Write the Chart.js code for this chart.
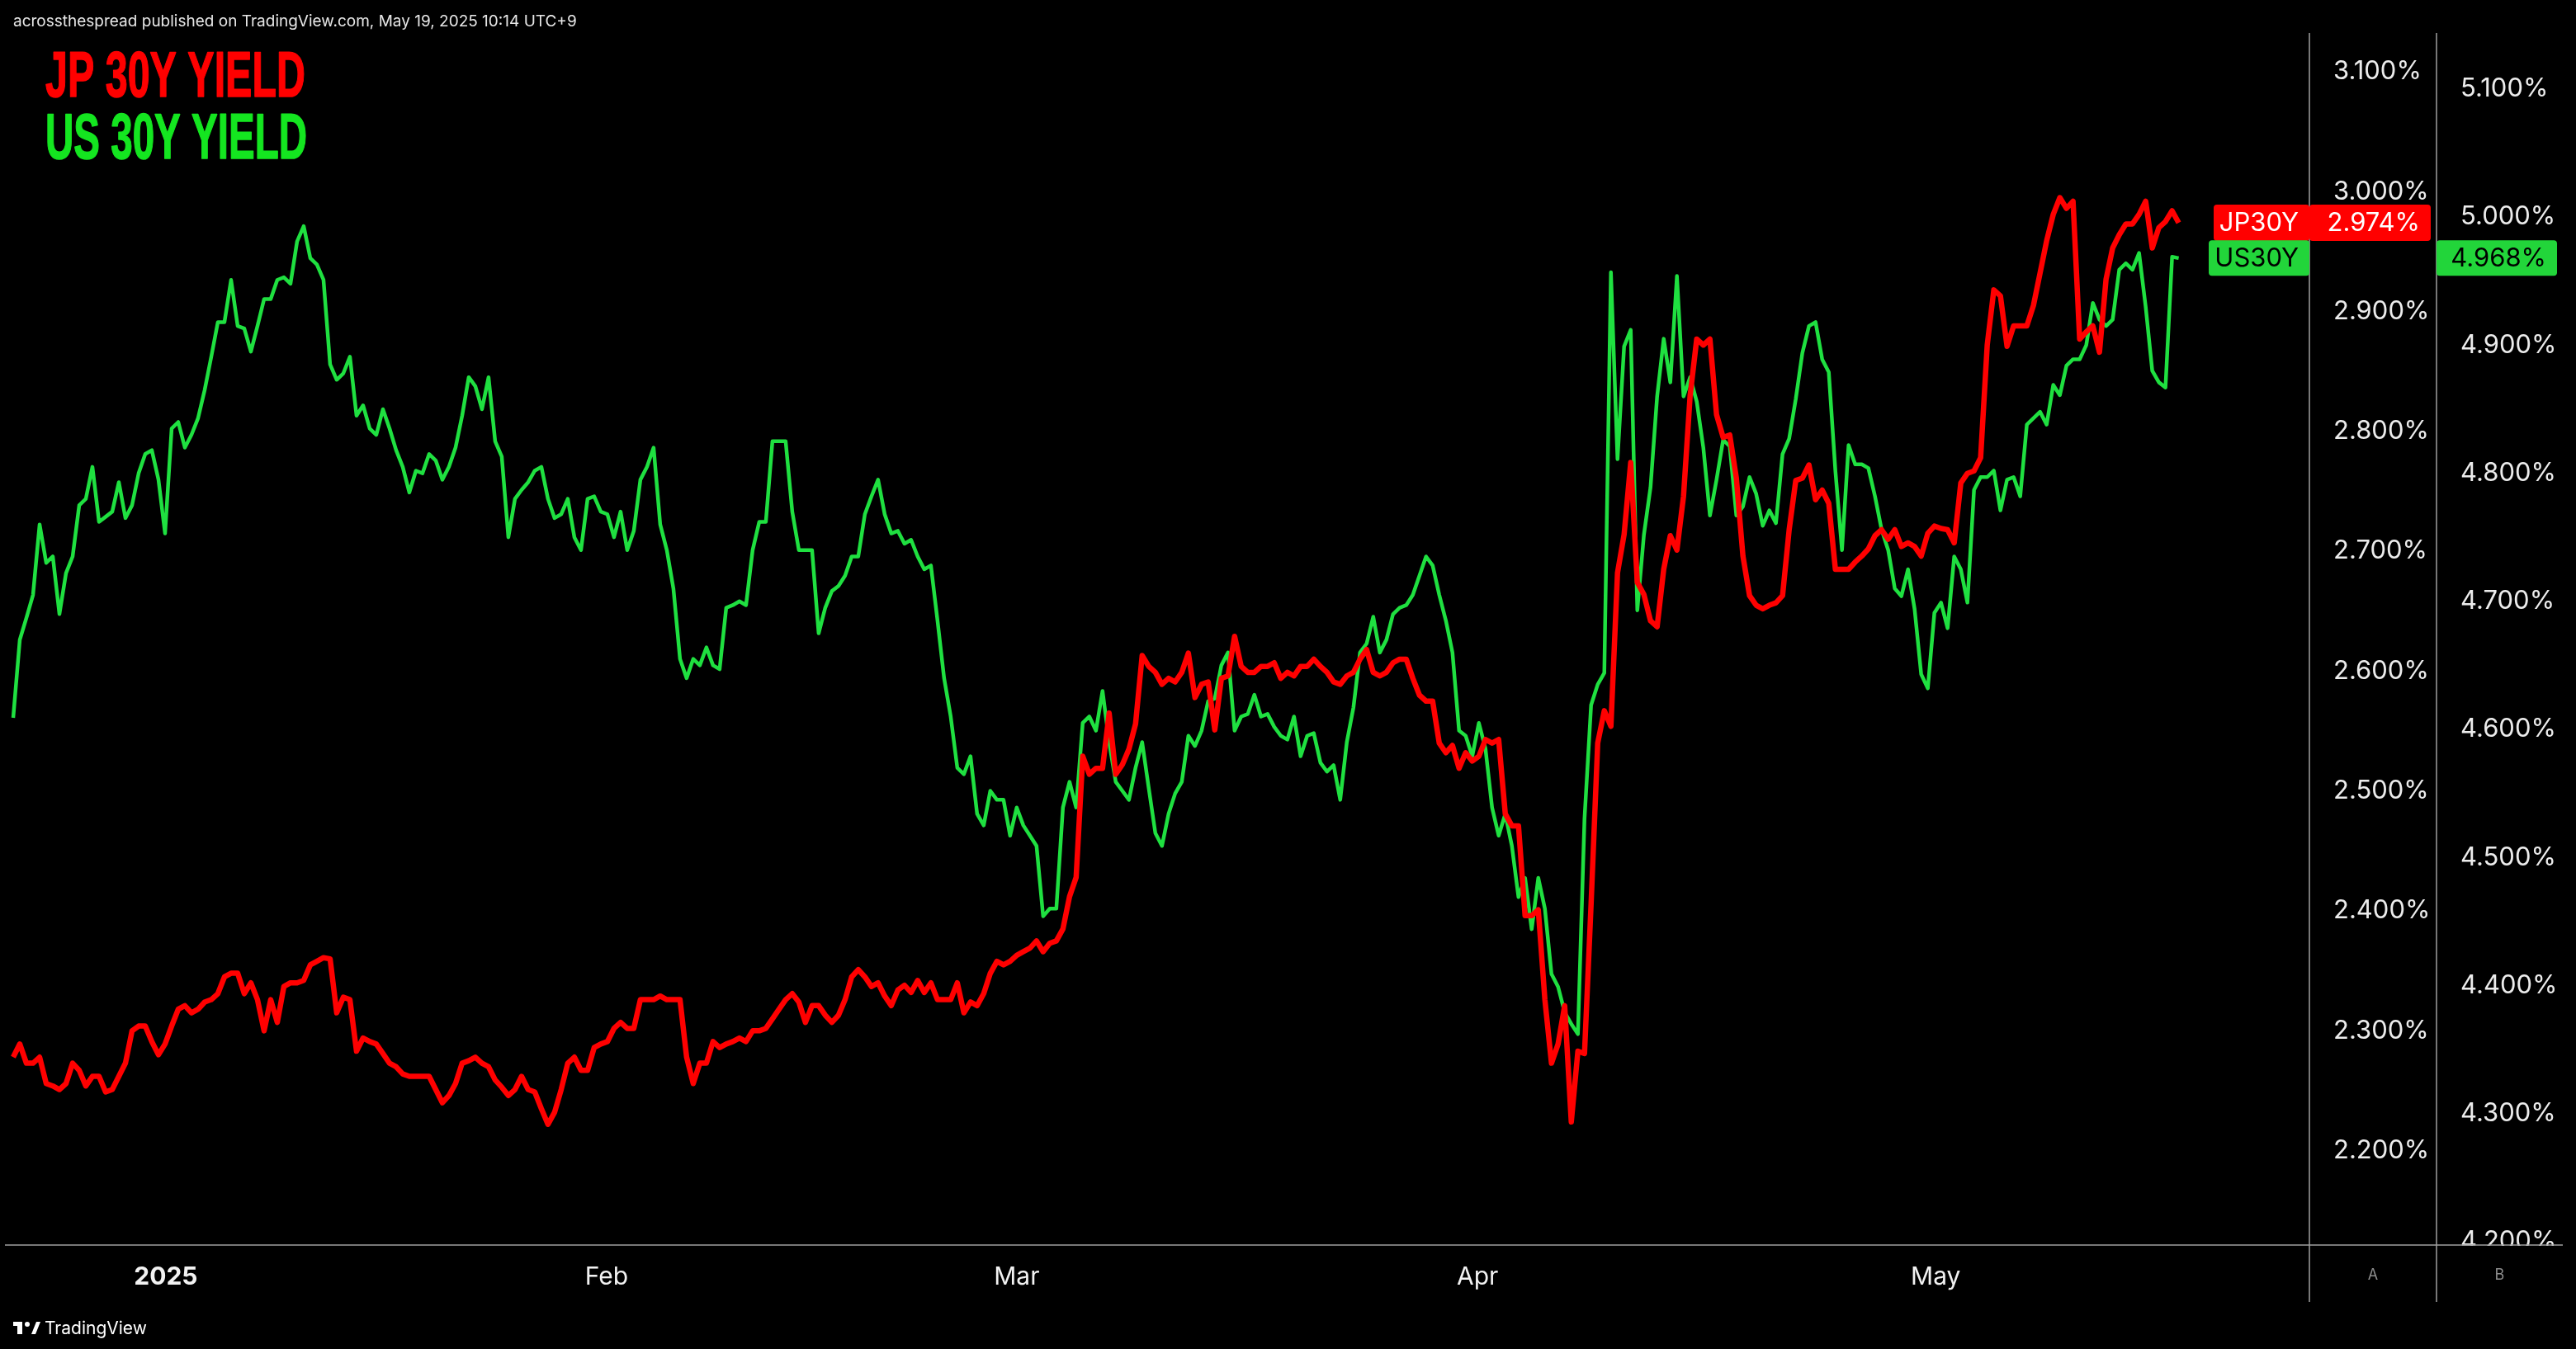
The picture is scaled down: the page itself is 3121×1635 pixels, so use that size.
<!DOCTYPE html>
<html lang="en">
<head>
  <meta charset="UTF-8" />
  <title>JP 30Y vs US 30Y Yield</title>
  <script src="https://cdn.jsdelivr.net/npm/chart.js"></script>
  <style>
    html, body {
      margin: 0;
      padding: 0;
      background-color: #000;
    }

    #wrap {
      width: 3121px;
      height: 1635px;
      position: relative;
    }
  </style>
</head>
<body>
  <div id="wrap"><canvas id="yieldChart"></canvas></div>

  <script>
    // JP 30Y yield (%), equally spaced bars
    const jpYield = [
      2.278, 2.289, 2.273, 2.273, 2.278, 2.256, 2.254, 2.251, 2.256, 2.273,
      2.267, 2.254, 2.262, 2.262, 2.249, 2.251, 2.262, 2.273, 2.300, 2.304,
      2.304, 2.291, 2.280, 2.289, 2.304, 2.318, 2.321, 2.315, 2.318, 2.324,
      2.326, 2.331, 2.345, 2.348, 2.348, 2.331, 2.340, 2.326, 2.300, 2.326,
      2.307, 2.337, 2.340, 2.340, 2.342, 2.355, 2.358, 2.361, 2.360, 2.315,
      2.328, 2.326, 2.283, 2.294, 2.291, 2.289, 2.281, 2.273, 2.270, 2.264,
      2.262, 2.262, 2.262, 2.262, 2.251, 2.240, 2.246, 2.256, 2.273, 2.275,
      2.278, 2.273, 2.270, 2.259, 2.253, 2.246, 2.251, 2.262, 2.251, 2.249,
      2.235, 2.222, 2.232, 2.251, 2.273, 2.278, 2.267, 2.267, 2.286, 2.289,
      2.291, 2.302, 2.307, 2.302, 2.302, 2.326, 2.326, 2.326, 2.329, 2.326,
      2.326, 2.326, 2.278, 2.256, 2.273, 2.273, 2.291, 2.286, 2.289, 2.291,
      2.294, 2.291, 2.300, 2.300, 2.302, 2.310, 2.318, 2.326, 2.331, 2.324,
      2.307, 2.321, 2.321, 2.313, 2.307, 2.313, 2.326, 2.345, 2.351, 2.345,
      2.337, 2.340, 2.329, 2.321, 2.334, 2.338, 2.332, 2.342, 2.332, 2.340,
      2.326, 2.326, 2.326, 2.340, 2.315, 2.324, 2.321, 2.331, 2.348, 2.358,
      2.355, 2.358, 2.363, 2.366, 2.369, 2.375, 2.366, 2.373, 2.375, 2.385,
      2.412, 2.428, 2.529, 2.514, 2.519, 2.519, 2.565, 2.514, 2.522, 2.535,
      2.556, 2.613, 2.604, 2.599, 2.589, 2.594, 2.591, 2.599, 2.615, 2.578,
      2.589, 2.591, 2.551, 2.594, 2.596, 2.629, 2.604, 2.599, 2.599, 2.604,
      2.604, 2.607, 2.594, 2.599, 2.596, 2.604, 2.604, 2.610, 2.604, 2.599,
      2.591, 2.589, 2.596, 2.599, 2.610, 2.618, 2.599, 2.596, 2.599, 2.607,
      2.610, 2.610, 2.594, 2.580, 2.575, 2.575, 2.540, 2.532, 2.538, 2.519,
      2.532, 2.525, 2.529, 2.543, 2.540, 2.543, 2.481, 2.471, 2.471, 2.396,
      2.396, 2.401, 2.326, 2.273, 2.289, 2.321, 2.224, 2.283, 2.281, 2.406,
      2.540, 2.567, 2.554, 2.682, 2.714, 2.774, 2.674, 2.664, 2.642, 2.637,
      2.685, 2.713, 2.701, 2.746, 2.830, 2.877, 2.872, 2.877, 2.814, 2.795,
      2.797, 2.761, 2.696, 2.663, 2.655, 2.652, 2.655, 2.657, 2.663, 2.718,
      2.759, 2.761, 2.772, 2.743, 2.751, 2.740, 2.685, 2.685, 2.685, 2.691,
      2.696, 2.702, 2.713, 2.718, 2.710, 2.718, 2.704, 2.707, 2.704, 2.696,
      2.715, 2.721, 2.719, 2.718, 2.707, 2.757, 2.765, 2.767, 2.778, 2.872,
      2.918, 2.913, 2.871, 2.888, 2.888, 2.888, 2.905, 2.932, 2.959, 2.981,
      2.995, 2.986, 2.992, 2.877, 2.883, 2.888, 2.866, 2.927, 2.953, 2.964,
      2.973, 2.973, 2.981, 2.992, 2.953, 2.970, 2.975, 2.984, 2.974
    ];

    // US 30Y yield (%), same bars
    const usYield = [
      4.609, 4.670, 4.687, 4.705, 4.760, 4.730, 4.735, 4.690, 4.722, 4.735,
      4.775, 4.780, 4.805, 4.762, 4.766, 4.770, 4.793, 4.765, 4.775, 4.800,
      4.815, 4.818, 4.795, 4.753, 4.835, 4.840, 4.820, 4.830, 4.843, 4.865,
      4.891, 4.918, 4.918, 4.951, 4.915, 4.913, 4.895, 4.915, 4.936, 4.936,
      4.951, 4.953, 4.948, 4.981, 4.993, 4.968, 4.963, 4.951, 4.885, 4.873,
      4.878, 4.891, 4.845, 4.853, 4.835, 4.830, 4.850, 4.835, 4.818, 4.805,
      4.785, 4.802, 4.800, 4.815, 4.810, 4.795, 4.805, 4.820, 4.845, 4.875,
      4.868, 4.850, 4.875, 4.825, 4.813, 4.750, 4.780, 4.787, 4.793, 4.802,
      4.805, 4.780, 4.765, 4.768, 4.780, 4.750, 4.740, 4.780, 4.782, 4.770,
      4.768, 4.750, 4.770, 4.740, 4.755, 4.795, 4.805, 4.820, 4.760, 4.740,
      4.710, 4.655, 4.640, 4.655, 4.650, 4.664, 4.650, 4.647, 4.695, 4.697,
      4.700, 4.697, 4.740, 4.762, 4.762, 4.825, 4.825, 4.825, 4.770, 4.740,
      4.740, 4.740, 4.675, 4.695, 4.708, 4.712, 4.720, 4.735, 4.735, 4.768,
      4.782, 4.795, 4.768, 4.753, 4.755, 4.745, 4.748, 4.735, 4.725, 4.728,
      4.685, 4.640, 4.610, 4.570, 4.565, 4.579, 4.534, 4.525, 4.552, 4.545,
      4.545, 4.517, 4.539, 4.525, 4.517, 4.509, 4.454, 4.460, 4.460, 4.539,
      4.559, 4.539, 4.605, 4.610, 4.599, 4.630, 4.590, 4.559, 4.552, 4.545,
      4.570, 4.590, 4.554, 4.519, 4.509, 4.534, 4.550, 4.559, 4.595, 4.587,
      4.599, 4.622, 4.624, 4.650, 4.660, 4.599, 4.610, 4.612, 4.627, 4.610,
      4.612, 4.602, 4.595, 4.592, 4.610, 4.579, 4.595, 4.597, 4.574, 4.567,
      4.572, 4.545, 4.590, 4.617, 4.660, 4.667, 4.688, 4.660, 4.670, 4.690,
      4.695, 4.697, 4.705, 4.720, 4.735, 4.728, 4.705, 4.685, 4.660, 4.599,
      4.595, 4.579, 4.605, 4.585, 4.539, 4.517, 4.534, 4.509, 4.469, 4.484,
      4.444, 4.484, 4.460, 4.409, 4.399, 4.379, 4.370, 4.362, 4.530, 4.619,
      4.635, 4.644, 4.957, 4.811, 4.899, 4.912, 4.693, 4.752, 4.789, 4.860,
      4.905, 4.871, 4.954, 4.860, 4.875, 4.856, 4.820, 4.767, 4.795, 4.826,
      4.821, 4.767, 4.774, 4.797, 4.784, 4.759, 4.771, 4.761, 4.815, 4.827,
      4.858, 4.894, 4.915, 4.918, 4.889, 4.879, 4.802, 4.740, 4.822, 4.807,
      4.807, 4.804, 4.782, 4.756, 4.740, 4.710, 4.704, 4.725, 4.694, 4.643,
      4.632, 4.691, 4.699, 4.679, 4.735, 4.725, 4.699, 4.787, 4.797, 4.797,
      4.802, 4.771, 4.795, 4.797, 4.782, 4.838, 4.843, 4.848, 4.838, 4.869,
      4.861, 4.884, 4.889, 4.889, 4.900, 4.933, 4.920, 4.915, 4.920, 4.959,
      4.964, 4.959, 4.972, 4.930, 4.880, 4.871, 4.867, 4.969, 4.968
    ];

    // month marks, in bar-index units
    const monthTickPos = [23.12, 89.88, 152.0, 221.8, 291.2];
    const monthLabels = ["2025", "Feb", "Mar", "Apr", "May"];

    const jpTicks = [2.2, 2.3, 2.4, 2.5, 2.6, 2.7, 2.8, 2.9, 3.0, 3.1];
    const usTicks = [4.2, 4.3, 4.4, 4.5, 4.6, 4.7, 4.8, 4.9, 5.0, 5.1];

    const jpRange = [2.1213, 3.1323];
    const usRange = [4.1973, 5.1438];
    const barRange = [-1.25, 347.8];

    const FONT = "Inter, 'Noto Sans', sans-serif";
    const RED = "#ff0000";
    const GREEN = "#1fe040";
    const LINE_GREY = "#a0a0a0";

    Chart.defaults.font.family = FONT;

    function condensedText(ctx, text, x, baseline, size, targetWidth, color) {
      ctx.save();
      ctx.font = "bold " + size + "px 'Liberation Sans', Arial, sans-serif";
      ctx.fillStyle = color;
      ctx.strokeStyle = color;
      ctx.lineWidth = 1.5;
      ctx.lineJoin = "round";
      const w = ctx.measureText(text).width;
      ctx.translate(x, baseline);
      ctx.scale(targetWidth / w, 1);
      ctx.textBaseline = "alphabetic";
      ctx.strokeText(text, 0, 0);
      ctx.fillText(text, 0, 0);
      ctx.restore();
    }

    function tag(ctx, x0, x1, yc, h, fill, text, textColor, textRight) {
      ctx.fillStyle = fill;
      ctx.beginPath();
      ctx.roundRect(x0, yc - h / 2, x1 - x0, h, 4);
      ctx.fill();
      ctx.fillStyle = textColor;
      ctx.font = "31px " + FONT;
      ctx.textAlign = "right";
      ctx.textBaseline = "middle";
      ctx.fillText(text, textRight, yc + 1);
    }

    const overlay = {
      id: "overlay",
      beforeDraw(chart) {
        const { ctx, width, height } = chart;
        ctx.save();
        ctx.fillStyle = "#000";
        ctx.fillRect(0, 0, width, height);
        ctx.restore();
      },
      afterDraw(chart) {
        const { ctx, chartArea } = chart;
        const yJP = chart.scales.yJP;
        const yUS = chart.scales.yUS;
        const axisBottom = chartArea.bottom + 69;

        ctx.save();

        // hide the part of the lowest right label that falls below the axis line
        ctx.fillStyle = "#000";
        ctx.fillRect(yUS.left + 1, chartArea.bottom + 1, yUS.right - yUS.left, 68);

        // frame lines
        ctx.strokeStyle = LINE_GREY;
        ctx.lineWidth = 1.5;
        ctx.beginPath();
        ctx.moveTo(chartArea.left, chartArea.bottom);
        ctx.lineTo(3105, chartArea.bottom);
        ctx.moveTo(yJP.left, chartArea.top);
        ctx.lineTo(yJP.left, axisBottom);
        ctx.moveTo(yUS.left, chartArea.top);
        ctx.lineTo(yUS.left, axisBottom);
        ctx.stroke();

        // pane letters
        ctx.fillStyle = "#8c8c8c";
        ctx.font = "18px " + FONT;
        ctx.textAlign = "center";
        ctx.textBaseline = "middle";
        ctx.fillText("A", (yJP.left + yUS.left) / 2, chartArea.bottom + 37);
        ctx.fillText("B", (yUS.left + 3105) / 2, chartArea.bottom + 37);

        // header
        ctx.fillStyle = "#e6e6e6";
        ctx.font = "19px " + FONT;
        ctx.textAlign = "left";
        ctx.textBaseline = "alphabetic";
        ctx.fillText("acrossthespread published on TradingView.com, May 19, 2025 10:14 UTC+9", 16, 32);

        // titles
        condensedText(ctx, "JP 30Y YIELD", 55, 117, 77, 315, RED);
        condensedText(ctx, "US 30Y YIELD", 55, 192, 77, 317, "#14e620");

        // last value tags
        const jpLast = jpYield[jpYield.length - 1];
        const usLast = usYield[usYield.length - 1];
        const jpY = yJP.getPixelForValue(jpLast);
        const usY = yUS.getPixelForValue(usLast);
        tag(ctx, 2682, yJP.left, jpY, 44, RED, "JP30Y", "#ffffff", yJP.left - 13);
        tag(ctx, yJP.left, yJP.left + 147, jpY, 44, RED, jpLast.toFixed(3) + "%", "#ffffff", yJP.left + 134);
        tag(ctx, 2676, yJP.left, usY, 43, "#22d53a", "US30Y", "#000000", yJP.left - 13);
        tag(ctx, yUS.left, yUS.left + 146, usY, 43, "#22d53a", usLast.toFixed(3) + "%", "#000000", yUS.left + 133);

        // TradingView mark
        ctx.fillStyle = "#ffffff";
        ctx.fillRect(16, 1602, 11, 5);
        ctx.fillRect(21, 1602, 6, 15);
        ctx.beginPath();
        ctx.arc(33, 1605, 3, 0, Math.PI * 2);
        ctx.fill();
        ctx.beginPath();
        ctx.moveTo(38, 1617);
        ctx.lineTo(44, 1602);
        ctx.lineTo(49, 1602);
        ctx.lineTo(43, 1617);
        ctx.closePath();
        ctx.fill();
        ctx.font = "21px " + FONT;
        ctx.textAlign = "left";
        ctx.textBaseline = "alphabetic";
        ctx.fillText("TradingView", 54, 1617);

        ctx.restore();
      }
    };

    const pctLabel = v => Number(v).toFixed(3) + "%";

    new Chart(document.getElementById("yieldChart"), {
      type: "line",
      data: {
        datasets: [
          {
            label: "JP30Y",
            data: jpYield.map((v, i) => ({ x: i, y: v })),
            yAxisID: "yJP",
            borderColor: RED,
            borderWidth: 6.5,
            pointRadius: 0,
            tension: 0,
            borderJoinStyle: "round"
          },
          {
            label: "US30Y",
            data: usYield.map((v, i) => ({ x: i, y: v })),
            yAxisID: "yUS",
            borderColor: GREEN,
            borderWidth: 4.5,
            pointRadius: 0,
            tension: 0,
            borderJoinStyle: "round"
          }
        ]
      },
      options: {
        responsive: true,
        maintainAspectRatio: false,
        animation: false,
        layout: { padding: { top: 40, left: 6, right: 0, bottom: 57 } },
        plugins: {
          legend: { display: false },
          tooltip: { enabled: false }
        },
        scales: {
          x: {
            type: "linear",
            position: "bottom",
            min: barRange[0],
            max: barRange[1],
            grid: { display: false },
            border: { display: false },
            afterBuildTicks: axis => {
              axis.ticks = monthTickPos.map(v => ({ value: v }));
            },
            afterFit: axis => { axis.height = 69; },
            ticks: {
              autoSkip: false,
              maxRotation: 0,
              padding: 13,
              color: "#f2f2f2",
              font: ctx => ({ size: 30, weight: ctx.index === 0 ? "bold" : "normal" }),
              callback: (value, index) => monthLabels[index]
            }
          },
          yJP: {
            type: "linear",
            position: "right",
            weight: 0,
            min: jpRange[0],
            max: jpRange[1],
            grid: { display: false },
            border: { display: false },
            afterBuildTicks: axis => {
              axis.ticks = jpTicks.map(v => ({ value: v }));
            },
            afterFit: axis => { axis.width = 154; },
            ticks: {
              padding: 21,
              color: "#ececec",
              font: { size: 31 },
              callback: pctLabel
            }
          },
          yUS: {
            type: "linear",
            position: "right",
            weight: 1,
            min: usRange[0],
            max: usRange[1],
            grid: { display: false },
            border: { display: false },
            afterBuildTicks: axis => {
              axis.ticks = usTicks.map(v => ({ value: v }));
            },
            afterFit: axis => { axis.width = 169; },
            ticks: {
              padding: 21,
              color: "#ececec",
              font: { size: 31 },
              callback: pctLabel
            }
          }
        }
      },
      plugins: [overlay]
    });
  </script>
</body>
</html>
